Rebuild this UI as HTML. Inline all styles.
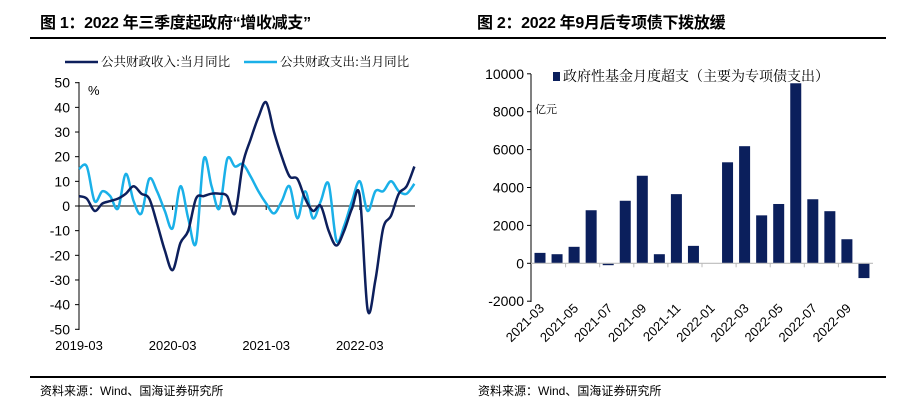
<!DOCTYPE html>
<html><head><meta charset="utf-8">
<style>
body{margin:0;width:906px;height:415px;background:#fff;overflow:hidden;font-family:"Liberation Sans","Noto Sans CJK SC",sans-serif;}
.t{position:absolute;font-weight:bold;font-size:16px;color:#000;top:9px;letter-spacing:-0.3px}
.s{position:absolute;font-size:12px;color:#000;top:382px}
.hl{position:absolute;height:1.5px;background:#000;left:30px;width:856px}
</style></head><body>
<div class="t" style="left:40px">图 1：2022 年三季度起政府“增收减支”</div>
<div class="t" style="left:477px">图 2：2022 年9月后专项债下拨放缓</div>
<div class="hl" style="top:37px"></div>
<div class="hl" style="top:376px"></div>
<div class="s" style="left:40px">资料来源：Wind、国海证券研究所</div>
<div class="s" style="left:478px">资料来源：Wind、国海证券研究所</div>
<svg id="c1" width="906" height="415" style="position:absolute;left:0;top:0"></svg>
<script>
const months1=44;
const xLabels1=["2019-03","2020-03","2021-03","2022-03"];
const yTicks1=[50,40,30,20,10,0,-10,-20,-30,-40,-50];
const revenue=[4,3,-2,1,2,3,5,8,5,3,-7,-18,-26,-15,-10,3,4,5,5,4,-3,17,27,36,42,30,20,12,11,3,-2,0,-10,-16,-10,-1,4,-42,-30,-9,-4,5,8,16];
const spending=[15,16,2,6,4,-1,13,2,-3,11,6,-2,-9,8,-5,-15,19,8,-1,19,16,17,12,6,1,-3,2,8,-5,6,-5,2,9,-14,-8,2,10,-2,6,6,10,6,5,9];
const cats2=["2021-03","2021-04","2021-05","2021-06","2021-07","2021-08","2021-09","2021-10","2021-11","2021-12","2022-01","2022-02","2022-03","2022-04","2022-05","2022-06","2022-07","2022-08","2022-09","2022-10"];
const vals2=[550,480,870,2800,-100,3300,4620,480,3650,920,0,5330,6180,2530,3130,9500,3380,2750,1270,-780];
const yTicks2=[10000,8000,6000,4000,2000,0,-2000];

const svg=document.getElementById('c1');
const NS='http://www.w3.org/2000/svg';
function mk(tag,attrs,name,parent){const e=document.createElementNS(NS,tag);for(const k in attrs)e.setAttribute(k,attrs[k]);


(parent||svg).appendChild(e);return e;}
function txt(x,y,s,name,opt){const e=mk('text',Object.assign({x:x,y:y,'font-size':12,fill:'#000','font-family':'"Liberation Sans","Noto Sans CJK SC",sans-serif'},opt||{}),name);e.textContent=s;return e;}

// Chart 1
const x1=i=>79+i*7.8;
const y1=v=>206-v*2.466;
mk('line',{x1:79,y1:82,x2:79,y2:330,stroke:'#000','stroke-width':1},'y-axis');
yTicks1.forEach(v=>{mk('line',{x1:75,x2:79,y1:y1(v),y2:y1(v),stroke:'#000'},'y-tick');
txt(70,y1(v)+5,String(v),'y-tick-label',{'text-anchor':'end','font-size':14});});
mk('line',{x1:79,y1:y1(0),x2:415,y2:y1(0),stroke:'#000','stroke-width':1},'zero-line');
xLabels1.forEach((l,k)=>{const x=x1(k*12);mk('line',{x1:x,x2:x,y1:y1(0),y2:y1(0)+4,stroke:'#000'},'x-tick');
txt(x,350,l,'x-tick-label',{'text-anchor':'middle','font-size':13});});
txt(88,95,'%','y-unit',{'font-size':13});
function smooth(arr,fx,fy){const p=arr.map((v,i)=>[fx(i),fy(v)]);let d='M'+p[0][0]+','+p[0][1];
for(let i=0;i<p.length-1;i++){const p0=p[Math.max(0,i-1)],p1=p[i],p2=p[i+1],p3=p[Math.min(p.length-1,i+2)];
const c1=[p1[0]+(p2[0]-p0[0])/6,p1[1]+(p2[1]-p0[1])/6],c2=[p2[0]-(p3[0]-p1[0])/6,p2[1]-(p3[1]-p1[1])/6];
d+=' C'+c1[0].toFixed(1)+','+c1[1].toFixed(1)+' '+c2[0].toFixed(1)+','+c2[1].toFixed(1)+' '+p2[0].toFixed(1)+','+p2[1].toFixed(1);}return d;}
mk('path',{d:smooth(spending,x1,y1),fill:'none',stroke:'#1ab0e8','stroke-width':2.5},'spending-line');
mk('path',{d:smooth(revenue,x1,y1),fill:'none',stroke:'#0d1f5c','stroke-width':2.5},'revenue-line');
mk('line',{x1:65,x2:98,y1:62,y2:62,stroke:'#0d1f5c','stroke-width':2.5},'legend-revenue-swatch');
txt(101,66,'公共财政收入:当月同比','legend-revenue',{'font-size':12.5,'font-family':'"Noto Serif CJK SC",serif'});
txt(280,66,'公共财政支出:当月同比','legend-spending',{'font-size':12.5,'font-family':'"Noto Serif CJK SC",serif'});
mk('line',{x1:244,x2:277,y1:62,y2:62,stroke:'#1ab0e8','stroke-width':2.5},'legend-spending-swatch');

// Chart 2
const x2=i=>540+i*17.05;
const y2=v=>263.3-v*0.01895;
mk('line',{x1:531,y1:74,x2:531,y2:302,stroke:'#000'},'y-axis-2');
yTicks2.forEach(v=>{mk('line',{x1:527,x2:531,y1:y2(v),y2:y2(v),stroke:'#000'},'y-tick-2');
txt(524,y2(v)+5,String(v),'y-tick-label-2',{'text-anchor':'end','font-size':14});});
vals2.forEach((v,i)=>{const top=Math.min(y2(v),y2(0)),h=Math.abs(y2(v)-y2(0));
mk('rect',{x:x2(i)-5.5,y:top,width:11,height:h,fill:'#0b1f5c'},'bar-'+cats2[i]);});
mk('line',{x1:531,y1:y2(0),x2:873,y2:y2(0),stroke:'#bbb','stroke-width':1.2},'zero-line-2');
cats2.forEach((c,i)=>{if(i%2===0){
const tx=x2(i)+8.5;if(i>0)mk('line',{x1:tx-17,x2:tx-17,y1:y2(0),y2:y2(0)+4,stroke:'#bbb'},'x-tick-2');
txt(x2(i)+5,309,c,'x-tick-label-2',{'text-anchor':'end','font-size':13,transform:'rotate(-45 '+(x2(i)+5)+' 309)'});}});
mk('rect',{x:553,y:72,width:7,height:9,fill:'#0b1f5c'},'legend-swatch-2');
txt(563,81,'政府性基金月度超支（主要为专项债支出）','legend-2',{'font-size':14,'font-family':'"Noto Serif CJK SC",serif'});
txt(535,113,'亿元','y-unit-2',{'font-size':11,'font-family':'"Noto Serif CJK SC",serif'});
</script>
</body></html>
